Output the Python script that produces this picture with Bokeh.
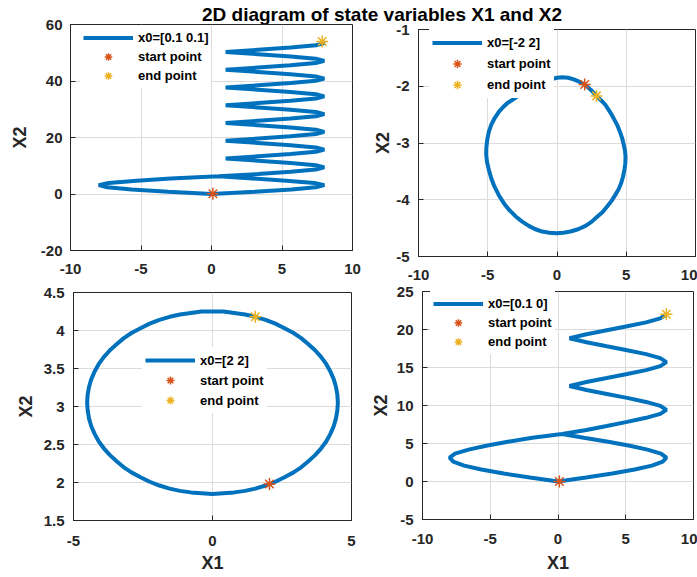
from bokeh.plotting import figure
from bokeh.models import FixedTicker, NumeralTickFormatter, Legend, LegendItem, Label
from bokeh.layouts import column, row
from bokeh.embed import file_html
from bokeh.resources import INLINE

FONT = "Liberation Sans"
TXT = "#262626"
BLUE = "#0072BD"
ORANGE = "#D95319"
YELLOW = "#EDB120"
GRID = "#dcdcdc"

TITLE = "2D diagram of state variables X1 and X2"

# ---------------- data ----------------
# top-left: x0=[0.1 0.1]
tl_label = "x0=[0.1 0.1]"
tl_x1 = [0.5, -2.9, -5.3, -7.3, -8.0, -7.39, -5.66, -3.06, 0.0,
         3.06, 5.66, 7.39, 8.0, 7.3, 5.3, 2.9, 0.5,
         3.3, 5.6, 7.4, 8.0, 7.4, 5.6, 3.3, 1.0,
         3.3, 5.6, 7.4, 8.0, 7.4, 5.6, 3.3, 1.0,
         3.3, 5.6, 7.4, 8.0, 7.4, 5.6, 3.3, 1.0,
         3.3, 5.6, 7.4, 8.0, 7.4, 5.6, 3.3, 1.0,
         3.3, 5.6, 7.4, 8.0, 7.4, 5.6, 3.3, 1.0,
         3.3, 5.6, 7.4, 8.0, 7.4, 5.6, 3.3, 1.0,
         3.3, 5.6, 7.4, 8.0, 7.4, 5.6, 3.3, 1.0,
         3.3, 5.6, 7.4, 8.0, 7.85]
tl_x2 = [6.28, 5.5, 4.71, 3.93, 3.14, 2.36, 1.57, 0.79, 0.0,
         0.79, 1.57, 2.36, 3.14, 3.93, 4.71, 5.5, 6.28,
         7.07, 7.85, 8.64, 9.42, 10.21, 11.0, 11.78, 12.57,
         13.35, 14.14, 14.92, 15.71, 16.49, 17.28, 18.06, 18.85,
         19.63, 20.42, 21.21, 21.99, 22.78, 23.56, 24.35, 25.13,
         25.92, 26.7, 27.49, 28.27, 29.06, 29.85, 30.63, 31.42,
         32.2, 32.99, 33.77, 34.56, 35.34, 36.13, 36.91, 37.7,
         38.48, 39.27, 40.06, 40.84, 41.63, 42.41, 43.2, 43.98,
         44.77, 45.55, 46.34, 47.12, 47.91, 48.69, 49.48, 50.27,
         51.05, 51.84, 52.62, 53.41, 54.0]
tl_start = (0.1, 0.1)
tl_end = (7.85, 54.0)

# top-right: x0=[-2 2]
tr_label = "x0=[-2 2]"
tr_x1 = [2.0, 2.43, 2.85, 3.19, 3.5, 3.82, 4.1, 4.34, 4.54, 4.71,
         4.83, 4.91, 4.95, 4.93, 4.87, 4.77, 4.63, 4.44, 4.22, 3.94,
         3.62, 3.28, 2.9, 2.49, 2.06, 1.52, 0.97, 0.46, -0.04, -0.56,
         -1.07, -1.56, -2.04, -2.54, -3.0, -3.45, -3.84, -4.2, -4.51, -4.75,
         -4.92, -5.05, -5.11, -5.1, -5.04, -4.93, -4.75, -4.5, -4.2, -3.9,
         -3.6, -3.16, -2.5, -1.7, -0.8, 0.0, 0.37, 0.8, 1.21, 1.6,
         2.0, 2.43, 2.85]
tr_x2 = [-1.97, -2.06, -2.17, -2.25, -2.33, -2.45, -2.57, -2.68, -2.8, -2.92,
         -3.04, -3.14, -3.24, -3.36, -3.47, -3.59, -3.71, -3.82, -3.91, -4.02,
         -4.12, -4.22, -4.3, -4.39, -4.46, -4.52, -4.56, -4.58, -4.59, -4.58,
         -4.56, -4.52, -4.46, -4.38, -4.29, -4.18, -4.06, -3.92, -3.77, -3.62,
         -3.47, -3.34, -3.21, -3.08, -2.95, -2.81, -2.68, -2.56, -2.45, -2.37,
         -2.3, -2.23, -2.12, -2.0, -1.9, -1.85, -1.84, -1.85, -1.88, -1.92,
         -1.97, -2.06, -2.17]
tr_start = (2.0, -1.97)
tr_end = (2.85, -2.17)

# bottom-left: x0=[2 2]
bl_label = "x0=[2 2]"
bl_x1 = [1.91, 2.26, 2.59, 2.90, 3.19, 3.45, 3.69, 3.91, 4.09, 4.24, 4.36, 4.44,
         4.49, 4.51, 4.49, 4.44, 4.36, 4.24, 4.09, 3.91, 3.69, 3.45, 3.19, 2.90,
         2.59, 2.26, 1.91, 1.54, 1.17, 0.78, 0.39, 0.0, -0.39, -0.78, -1.17, -1.54,
         -1.91, -2.26, -2.59, -2.90, -3.19, -3.45, -3.69, -3.91, -4.09, -4.24, -4.36, -4.44,
         -4.49, -4.51, -4.49, -4.44, -4.36, -4.24, -4.09, -3.91, -3.69, -3.45, -3.19, -2.90,
         -2.59, -2.26, -1.91, -1.54, -1.17, -0.78, -0.39, 0.0, 0.39, 0.78, 1.17, 1.54,
         1.91, 2.26, 2.59, 2.90, 3.19, 3.45, 3.69, 3.91, 4.09, 4.24, 4.36, 4.44,
         4.49, 4.51, 4.49, 4.44, 4.36, 4.24, 4.09, 3.91, 3.69, 3.45, 3.19, 2.90,
         2.59, 2.26, 1.91, 1.54]
bl_x2 = [1.96, 2.01, 2.07, 2.13, 2.20, 2.28, 2.36, 2.45, 2.54, 2.64, 2.74, 2.84,
         2.95, 3.05, 3.16, 3.26, 3.36, 3.46, 3.56, 3.65, 3.74, 3.82, 3.90, 3.97,
         4.03, 4.09, 4.14, 4.18, 4.21, 4.23, 4.25, 4.25, 4.25, 4.23, 4.21, 4.18,
         4.14, 4.09, 4.03, 3.97, 3.90, 3.82, 3.74, 3.65, 3.56, 3.46, 3.36, 3.26,
         3.16, 3.05, 2.95, 2.84, 2.74, 2.64, 2.54, 2.45, 2.36, 2.28, 2.20, 2.13,
         2.07, 2.01, 1.96, 1.92, 1.89, 1.87, 1.86, 1.85, 1.86, 1.87, 1.89, 1.92,
         1.96, 2.01, 2.07, 2.13, 2.20, 2.28, 2.36, 2.45, 2.54, 2.64, 2.74, 2.84,
         2.95, 3.05, 3.16, 3.26, 3.36, 3.46, 3.56, 3.65, 3.74, 3.82, 3.90, 3.97,
         4.03, 4.09, 4.14, 4.18]
bl_start = (2.05, 1.98)
bl_end = (1.54, 4.18)

# bottom-right: x0=[0.1 0]
br_label = "x0=[0.1 0]"
br_x1 = [0.3, -1.9, -3.7, -5.3, -6.6, -7.6, -8.0, -7.73, -6.93, -5.66, -4.0, -2.07, 0.0,
         2.07, 4.0, 5.66, 6.93, 7.73, 8.0, 7.6, 6.6, 5.3, 3.7, 1.9, 0.3,
         2.1, 3.6, 5.1, 6.5, 7.55, 8.0, 7.55, 6.5, 5.1, 3.6, 2.1, 0.85,
         2.1, 3.6, 5.1, 6.5, 7.55, 8.0, 7.55, 6.5, 5.1, 3.6, 2.1, 0.85,
         2.1, 3.6, 5.1, 6.5, 7.55, 8.0]
br_x2 = [6.25, 5.76, 5.24, 4.71, 4.19, 3.67, 3.14, 2.62, 2.09, 1.57, 1.05, 0.52, 0.0,
         0.52, 1.05, 1.57, 2.09, 2.62, 3.14, 3.67, 4.19, 4.71, 5.24, 5.76, 6.25,
         6.78, 7.3, 7.85, 8.38, 8.9, 9.42, 9.95, 10.47, 11.0, 11.52, 12.04, 12.57,
         13.09, 13.61, 14.14, 14.66, 15.18, 15.71, 16.23, 16.76, 17.28, 17.8, 18.33, 18.85,
         19.37, 19.9, 20.42, 20.94, 21.47, 21.99]
br_start = (0.1, 0.0)
br_end = (8.0, 22.0)

# axis ticks
tl_xticks = [-10, -5, 0, 5, 10]
tl_yticks = [-20, 0, 20, 40, 60]
tr_xticks = [-10, -5, 0, 5, 10]
tr_yticks = [-5, -4, -3, -2, -1]
bl_xticks = [-5, 0, 5]
bl_yticks = [1.5, 2, 2.5, 3, 3.5, 4, 4.5]
br_xticks = [-10, -5, 0, 5, 10]
br_yticks = [-5, 0, 5, 10, 15, 20, 25]


def style_axis(ax, ticks, standoff, label=None, label_standoff=5):
    ax.ticker = FixedTicker(ticks=ticks)
    ax.formatter = NumeralTickFormatter(format="0.[0]")
    ax.major_label_text_font = FONT
    ax.major_label_text_font_style = "bold"
    ax.major_label_text_font_size = "15px"
    ax.major_label_text_color = TXT
    ax.major_label_standoff = standoff
    ax.axis_line_color = TXT
    ax.axis_line_width = 1
    ax.major_tick_line_color = TXT
    ax.major_tick_in = 5
    ax.major_tick_out = 0
    ax.minor_tick_in = 0
    ax.minor_tick_out = 0
    ax.minor_tick_line_color = None
    if label is not None:
        ax.axis_label = label
        ax.axis_label_text_font = FONT
        ax.axis_label_text_font_style = "bold"
        ax.axis_label_text_font_size = "18px"
        ax.axis_label_text_color = TXT
        ax.axis_label_standoff = label_standoff


def panel(x1, x2, start, end, label, xr, yr, xticks, yticks, width, height,
          borders, legend_loc, row_h, x_std, y_std, ylab_std, xlabel=None, xlab_std=5):
    left, right, top, bottom = borders
    p = figure(width=width, height=height, x_range=xr, y_range=yr,
               output_backend="svg", toolbar_location=None,
               min_border_left=left, min_border_right=right,
               min_border_top=top, min_border_bottom=bottom)
    p.frame_align = False
    p.border_fill_color = None
    p.background_fill_color = None
    p.outline_line_color = TXT
    p.outline_line_width = 1
    p.outline_line_alpha = 1
    style_axis(p.xaxis[0], xticks, x_std, xlabel, xlab_std)
    style_axis(p.yaxis[0], yticks, y_std, "X2", ylab_std)
    p.xgrid.ticker = FixedTicker(ticks=xticks)
    p.ygrid.ticker = FixedTicker(ticks=yticks)
    for g in (p.xgrid[0], p.ygrid[0]):
        g.grid_line_color = GRID
        g.grid_line_width = 1
        g.grid_line_alpha = 1

    r_line = p.line(x1, x2, line_width=4, line_color=BLUE)
    r_s = p.scatter([start[0]], [start[1]], marker="asterisk", size=12,
                    line_color=ORANGE, line_width=1.5)
    r_e = p.scatter([end[0]], [end[1]], marker="asterisk", size=12,
                    line_color=YELLOW, line_width=1.5)
    leg = Legend(items=[LegendItem(label=label, renderers=[r_line]),
                        LegendItem(label="start point", renderers=[r_s]),
                        LegendItem(label="end point", renderers=[r_e])],
                 location=legend_loc, glyph_width=50, glyph_height=row_h,
                 label_height=row_h, label_standoff=5, spacing=0, padding=3,
                 border_line_alpha=0, background_fill_color="white",
                 background_fill_alpha=1,
                 label_text_font=FONT, label_text_font_style="bold",
                 label_text_font_size="13px", label_text_color="black")
    p.add_layout(leg)
    return p


# top row canvases are 291 px tall; the bottom row overlaps them by 8 px
tl = panel(tl_x1, tl_x2, tl_start, tl_end, tl_label, (-10, 10), (-20, 60),
           tl_xticks, tl_yticks, 366, 291, (70, 14, 24, 41), (10, 162), 19,
           13, 8, 8)
tr = panel(tr_x1, tr_x2, tr_start, tr_end, tr_label, (-10, 10), (-5, -1),
           tr_xticks, tr_yticks, 331, 291, (52, 2, 29, 35), (11, 158), 21,
           13, 9, 0)
bl = panel(bl_x1, bl_x2, bl_start, bl_end, bl_label, (-5, 5), (1.5, 4.5),
           bl_xticks, bl_yticks, 366, 294, (73, 15, 9, 57), (69, 107), 20,
           15, 9, 5, "X1", 4)
br = panel(br_x1, br_x2, br_start, br_end, br_label, (-10, 10), (-5, 25),
           br_xticks, br_yticks, 331, 294, (56, 4, 8, 58), (8, 165), 19,
           14, 9, 3, "X1", 6)

title_fig = figure(width=697, height=26, output_backend="svg", toolbar_location=None,
                   x_axis_location=None, y_axis_location=None, min_border=0)
title_fig.outline_line_color = None
title_fig.grid.visible = False
title_fig.add_layout(Label(x=381.5, y=12.3, x_units="screen", y_units="screen",
                           text=TITLE, text_align="center", text_baseline="middle",
                           text_font=FONT, text_font_style="bold",
                           text_font_size="19px", text_color="black"))

top_row = row(tl, tr, margin=(-26, 0, 0, 0))
bottom_row = row(bl, br, margin=(-8, 0, 0, 0))
layout = column(title_fig, top_row, bottom_row)

open("out.html", "w").write(file_html(layout, INLINE))
